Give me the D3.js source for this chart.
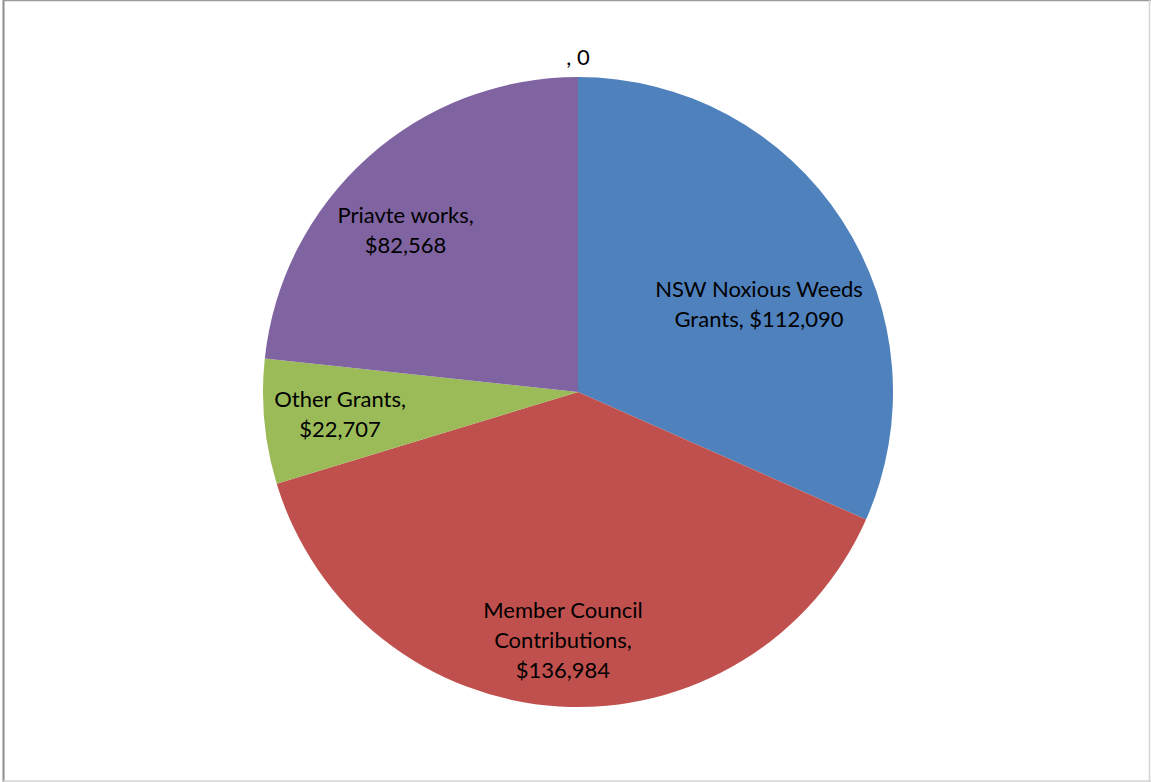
<!DOCTYPE html>
<html><head><meta charset="utf-8">
<script src="https://cdn.jsdelivr.net/npm/d3@7/dist/d3.min.js"></script>
<style>
html,body{margin:0;padding:0;background:#fff;}
svg{display:block;}
</style></head>
<body>
<svg id="chart" width="1151" height="782"></svg>
<script>
const categories = ["NSW Noxious Weeds Grants", "Member Council Contributions", "Other Grants", "Priavte works", ""];
const values = [112090, 136984, 22707, 82568, 0];
const labelLines = [
  ["NSW Noxious Weeds", "Grants, $112,090"],
  ["Member Council", "Contributions,", "$136,984"],
  ["Other Grants,", "$22,707"],
  ["Priavte works,", "$82,568"],
  [", 0"]
];
const colors = ["#4F81BD", "#C0504D", "#9BBB59", "#8064A2", "#4BACC6"];

const W = 1151, H = 782;
const svg = d3.select("#chart");
const cx = 578, cy = 392, R = 315;
const fontSize = 22, lineH = 30;
const fontFamily = "Lato, 'Open Sans', sans-serif";

// border
svg.append("line").attr("x1",3.5).attr("y1",0).attr("x2",3.5).attr("y2",H).attr("stroke","#8c8c8c").attr("stroke-width",2);
svg.append("line").attr("x1",3).attr("y1",0.5).attr("x2",W).attr("y2",0.5).attr("stroke","#9a9a9a").attr("stroke-width",1.5);
svg.append("line").attr("x1",W-1.5).attr("y1",0).attr("x2",W-1.5).attr("y2",H).attr("stroke","#d4d4d4").attr("stroke-width",1.5);
svg.append("line").attr("x1",3).attr("y1",H-1).attr("x2",W).attr("y2",H-1).attr("stroke","#d4d4d4").attr("stroke-width",1.5);

const data = categories.map((c,i)=>({cat:c, value:values[i], lines:labelLines[i], color:colors[i]}));
const pie = d3.pie().value(d=>d.value).sort(null);
const arcs = pie(data);
const arc = d3.arc().innerRadius(0).outerRadius(R);

const g = svg.append("g").attr("transform",`translate(${cx},${cy})`);
g.selectAll("path.slice").data(arcs.filter(a=>a.value>0)).join("path")
  .attr("class","slice")
  .attr("d",arc)
  .attr("fill",d=>d.data.color);

// labels (best-fit style: pushed outward along the mid angle until the box touches the rim)
const lg = g.append("g").attr("font-family",fontFamily).attr("font-size",fontSize).attr("fill","#000");
arcs.forEach(a=>{
  const t = lg.append("text").attr("text-anchor","middle");
  const n = a.data.lines.length;
  a.data.lines.forEach((ln,i)=>{
    t.append("tspan").attr("x",0).attr("y",(i-(n-1)/2)*lineH).attr("dy","0.35em").text(ln);
  });
  const bb = t.node().getBBox();
  const hw = bb.width/2, hh = n*lineH/2;
  const mid = (a.startAngle+a.endAngle)/2;
  let x, y;
  if (a.value === 0) {
    const r = R + 20;
    x = r*Math.sin(mid); y = -r*Math.cos(mid);
  } else {
    const lim = 0.98*R;
    const upper = Math.cos(mid) > 0.3 ? hh : 0;
    const pos = r0 => [r0*Math.sin(mid), -r0*Math.cos(mid) + upper];
    const fits = r0 => {
      const [px,py] = pos(r0);
      return [[-1,-1],[1,-1],[-1,1],[1,1]].every(([sx,sy])=>Math.hypot(px+sx*hw, py+sy*hh) <= lim);
    };
    let r = 0;
    while (fits(r+1) && r < R) r += 1;
    [x, y] = pos(r);
  }
  t.attr("transform",`translate(${x},${y})`);
});
</script>
</body></html>
